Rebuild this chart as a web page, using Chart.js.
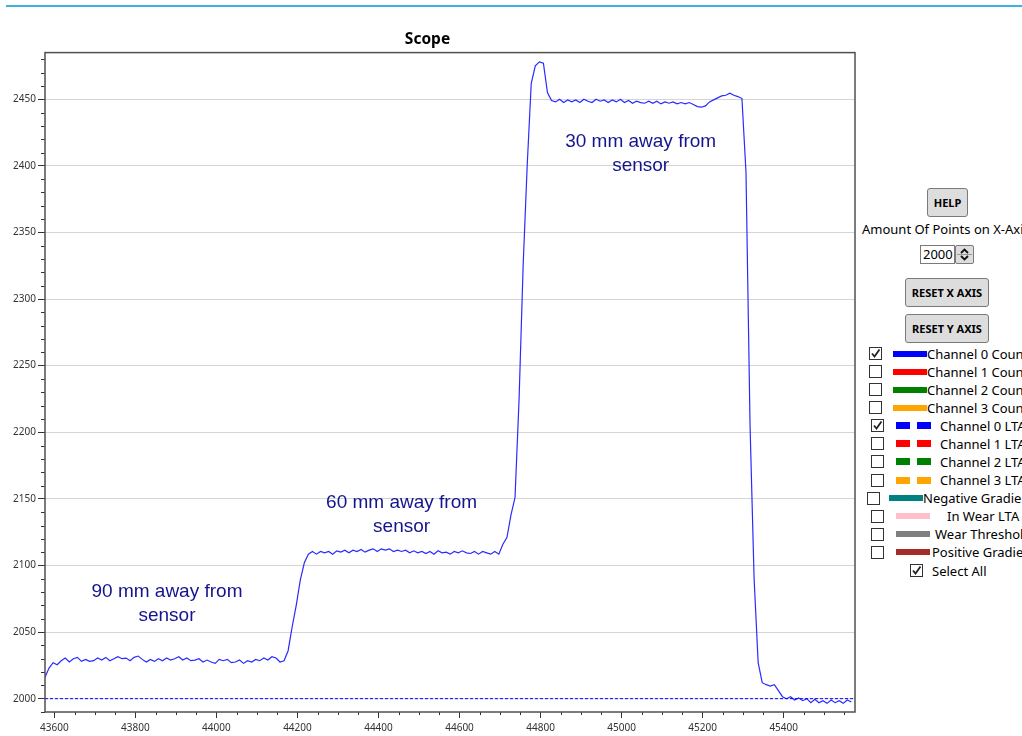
<!DOCTYPE html>
<html>
<head>
<meta charset="utf-8">
<title>Scope</title>
<script src="https://cdn.jsdelivr.net/npm/chart.js"></script>
<style>
    body { margin: 0; width: 1022px; height: 736px; overflow: hidden; background: #fff; font-family: "Noto Sans", "Open Sans", sans-serif; color: #000; }
    #topline { position: absolute; left: 6px; top: 5px; width: 1016px; height: 2px; background: #3db2e2; }
    #wrap { position: absolute; left: 0; top: 0; width: 862px; height: 736px; }
    .btn { position: absolute; box-sizing: border-box; background: #dddddd; border: 1px solid #7a7a7a; border-radius: 3px; font-weight: bold; font-size: 11px; text-align: center; }
    .txt { position: absolute; font-size: 13px; white-space: nowrap; line-height: 16px; }
    .box { position: absolute; box-sizing: border-box; width: 13px; height: 13px; border: 1px solid #333; background: #fff; }
    .sw { position: absolute; }
</style>
</head>
<body>
<div id="topline"></div>
<div id="wrap"><canvas id="scope" width="862" height="736"></canvas></div>

<script>
// x positions: one sample every 10 counts starting at X_START
const X_START = 43577;
const X_STEP = 10;

// Channel 0 count
const channel0 = [
    2016, 2023, 2027, 2025.5, 2028.5, 2030.5, 2027.5, 2030, 2031, 2028,
    2029.5, 2028, 2028.5, 2030.5, 2029, 2031, 2028.5, 2030, 2031.5, 2030,
    2030.5, 2028.5, 2031, 2032, 2029.5, 2027.5, 2029.5, 2028, 2030, 2028.5,
    2030.5, 2029, 2030, 2031.5, 2029, 2030.5, 2028.5, 2029, 2030, 2027.5,
    2029, 2027.5, 2026.5, 2029.5, 2028.5, 2029.5, 2027, 2027.5, 2029, 2026.5,
    2028.5, 2027.5, 2029.5, 2028.5, 2030.5, 2029, 2031.5, 2030.5, 2027.5, 2028.5,
    2036, 2054, 2070, 2089, 2102, 2108.5, 2110.5, 2108.5, 2110.5, 2109.5,
    2110.5, 2108.5, 2111, 2110, 2111.5, 2109.5, 2111.5, 2110.5, 2112, 2110,
    2111.5, 2112.5, 2110.5, 2112.5, 2111.5, 2112.5, 2110.5, 2111.5, 2110.5, 2111.5,
    2109.5, 2111, 2109.5, 2110.5, 2109, 2110.5, 2108.5, 2111, 2109.5, 2110,
    2108.5, 2110.5, 2109.5, 2111, 2109.5, 2109, 2110.5, 2108.5, 2110.5, 2109.5,
    2108.5, 2110.5, 2108.5, 2116, 2121, 2138, 2151, 2225, 2325, 2400,
    2462, 2475, 2478, 2477, 2455, 2449, 2448, 2450, 2447.5, 2449.5,
    2448, 2449.5, 2447.5, 2450, 2448.5, 2447.5, 2450, 2448.5, 2449.5, 2447.5,
    2449.5, 2448, 2450, 2447.5, 2449, 2447, 2448.5, 2447.5, 2447, 2448.5,
    2447, 2448.5, 2446.5, 2448, 2447, 2448, 2446.5, 2447.5, 2446.5, 2447.5,
    2446, 2444.5, 2444, 2445, 2448, 2449.5, 2451, 2452.5, 2453, 2454.5,
    2453, 2452, 2450.5, 2395, 2205, 2090, 2027, 2012, 2010.5, 2009.5,
    2010.5, 2006, 2001.5, 2000, 2001.5, 1999, 2000.5, 1998.5, 2000, 1997,
    1999.5, 1997, 1998.5, 1996.5, 1999, 1997, 1998.5, 1996.5, 1999, 1997.5
];

// Channel 0 LTA (dashed)
const ltaX = [43577, 45576];
const ltaValues = [2000, 2000];

// axis ranges and ticks
const xMin = 43577, xMax = 45576, xMajor = 200, xMinor = 50;
const yMin = 1990, yMax = 2485, yMajor = 50, yMinor = 10;

// annotations on the plot (data coordinates)
const noteLines = [["90 mm away from", "sensor"], ["60 mm away from", "sensor"], ["30 mm away from", "sensor"]];
const noteX = [43878, 44457, 45047];
const noteY = [2080, 2147, 2418];

// side panel legend
const legendNames = ["Channel 0 Count", "Channel 1 Count", "Channel 2 Count", "Channel 3 Count",
    "Channel 0 LTA", "Channel 1 LTA", "Channel 2 LTA", "Channel 3 LTA",
    "Negative Gradient", "In Wear LTA", "Wear Threshold", "Positive Gradient"];
const legendColors = ["#0000ff", "#ff0000", "#008000", "#ffa500", "#0000ff", "#ff0000", "#008000", "#ffa500",
    "#008080", "#ffc0cb", "#808080", "#a52a2a"];
const legendChecked = [true, false, false, false, true, false, false, false, false, false, false, false];

function seriesPoints() {
    return channel0.map((v, i) => ({ x: X_START + i * X_STEP, y: v }));
}

// tick values on round multiples inside the range
function roundTicks(min, max, step) {
    const out = [];
    for (let v = Math.ceil(min / step) * step; v <= max; v += step) out.push({ value: v });
    return out;
}

const minorTicks = {
    id: "minorTicks",
    afterDraw(chart) {
        const ctx = chart.ctx;
        const a = chart.chartArea;
        const xs = chart.scales.x, ys = chart.scales.y;
        ctx.save();
        ctx.strokeStyle = "#333";
        ctx.lineWidth = 1;
        ctx.beginPath();
        roundTicks(yMin, yMax, yMinor).forEach(t => {
            if (t.value % yMajor === 0) return;
            const p = Math.round(ys.getPixelForValue(t.value)) + 0.5;
            ctx.moveTo(a.left - 4, p);
            ctx.lineTo(a.left, p);
        });
        roundTicks(xMin, xMax, xMinor).forEach(t => {
            if (t.value % xMajor === 0) return;
            const p = Math.round(xs.getPixelForValue(t.value)) + 0.5;
            ctx.moveTo(p, a.bottom);
            ctx.lineTo(p, a.bottom + 3);
        });
        ctx.stroke();
        // frame round the plot
        ctx.strokeStyle = "#505050";
        ctx.lineWidth = 1.5;
        ctx.strokeRect(a.left, a.top, a.right - a.left, a.bottom - a.top);
        ctx.restore();
    }
};

const notes = {
    id: "notes",
    afterDatasetsDraw(chart) {
        const ctx = chart.ctx;
        ctx.save();
        ctx.font = '19px "Liberation Sans", Arial, sans-serif';
        ctx.fillStyle = "#14148f";
        ctx.textAlign = "center";
        ctx.textBaseline = "middle";
        noteLines.forEach((lines, i) => {
            const px = chart.scales.x.getPixelForValue(noteX[i]);
            const py = chart.scales.y.getPixelForValue(noteY[i]);
            lines.forEach((t, k) => ctx.fillText(t, px, py + k * 24));
        });
        ctx.restore();
    }
};

function renderChart() {
    const ctx = document.getElementById("scope").getContext("2d");
    new Chart(ctx, {
        type: "line",
        data: {
            datasets: [
                {
                    label: "Channel 0 LTA",
                    data: ltaX.map((x, i) => ({ x: x, y: ltaValues[i] })),
                    borderColor: "#0000ff",
                    borderWidth: 1,
                    borderDash: [3, 2],
                    pointRadius: 0,
                    fill: false
                },
                {
                    label: "Channel 0 Count",
                    data: seriesPoints(),
                    borderColor: "#2a2aff",
                    borderWidth: 1.2,
                    pointRadius: 0,
                    tension: 0,
                    fill: false
                }
            ]
        },
        options: {
            responsive: false,
            animation: false,
            devicePixelRatio: 1,
            layout: { padding: { left: 0, right: 7, top: 0, bottom: 0 } },
            plugins: {
                legend: { display: false },
                tooltip: { enabled: false },
                title: {
                    display: true,
                    text: "Scope",
                    color: "#000",
                    font: { family: "Noto Sans", size: 15.5, weight: "bold" },
                    padding: { top: 30, bottom: 4 }
                }
            },
            scales: {
                x: {
                    type: "linear",
                    min: xMin,
                    max: xMax,
                    afterBuildTicks(scale) { scale.ticks = roundTicks(xMin, xMax, xMajor); },
                    afterFit(scale) { scale.height = 24; },
                    border: { display: false },
                    grid: { drawOnChartArea: false, drawTicks: true, tickLength: 6, tickColor: "#333" },
                    ticks: {
                        maxRotation: 0,
                        autoSkip: false,
                        padding: 4,
                        color: "#333",
                        font: { family: "Noto Sans", size: 10 },
                        callback: v => String(v)
                    }
                },
                y: {
                    min: yMin,
                    max: yMax,
                    afterBuildTicks(scale) { scale.ticks = roundTicks(yMin, yMax, yMajor); },
                    afterFit(scale) { scale.width = 45; },
                    border: { display: false },
                    grid: { color: "#d4d4d4", lineWidth: 1, drawTicks: true, tickLength: 7, tickColor: "#333" },
                    ticks: {
                        padding: 2,
                        color: "#333",
                        font: { family: "Noto Sans", size: 10 },
                        callback: v => String(v)
                    }
                }
            }
        },
        plugins: [minorTicks, notes]
    });
}

function addEl(cls, left, top, w, h, html) {
    const el = document.createElement("div");
    el.className = cls;
    el.style.left = left + "px";
    el.style.top = top + "px";
    if (w) el.style.width = w + "px";
    if (h) el.style.height = h + "px";
    if (html) el.innerHTML = html;
    document.body.appendChild(el);
    return el;
}

const tick = '<svg width="11" height="11" style="position:absolute;left:0;top:0"><polyline points="2,5.5 4.5,8.5 9.5,1.5" fill="none" stroke="#222" stroke-width="1.8"/></svg>';

function checkbox(left, top, on) {
    addEl("box", left, top, 0, 0, on ? tick : "");
}

function renderPanel() {
    addEl("btn", 927, 188, 41, 29, "HELP").style.lineHeight = "27px";
    addEl("txt", 862, 221, 0, 0, "Amount Of Points on X-Axis");
    const box = addEl("txt", 920, 245, 35, 19, "2000");
    box.style.boxSizing = "border-box";
    box.style.border = "1px solid #7a7a7a";
    box.style.paddingLeft = "2px";
    box.style.lineHeight = "17px";
    addEl("btn", 955, 245, 19, 19,
        '<svg width="17" height="17" style="position:absolute;left:0;top:0">' +
        '<polyline points="5,7 8.5,3.5 12,7" fill="none" stroke="#111" stroke-width="1.8"/>' +
        '<polyline points="5,10 8.5,13.5 12,10" fill="none" stroke="#111" stroke-width="1.8"/>' +
        '<line x1="1" y1="8.5" x2="16" y2="8.5" stroke="#999" stroke-width="1"/></svg>').style.borderRadius = "2px";
    addEl("btn", 905, 278, 84, 29, "RESET X AXIS").style.lineHeight = "27px";
    addEl("btn", 905, 314, 84, 29, "RESET Y AXIS").style.lineHeight = "27px";

    const boxLeft = [869, 869, 869, 869, 871, 871, 871, 871, 867, 871, 871, 871];
    const textLeft = [927, 927, 927, 927, 940, 940, 940, 940, 923, 947, 935, 932];
    legendNames.forEach((name, i) => {
        const top = 347 + i * 18.08;
        checkbox(boxLeft[i], Math.round(top), legendChecked[i]);
        if (i < 4) {
            addEl("sw", 893, Math.round(top + 3.5), 34, 6).style.background = legendColors[i];
        } else if (i < 8) {
            addEl("sw", 896, Math.round(top + 3), 14, 7).style.background = legendColors[i];
            addEl("sw", 917, Math.round(top + 3), 14, 7).style.background = legendColors[i];
        } else {
            addEl("sw", i === 8 ? 889 : 896, Math.round(top + 3.5), 34, 6).style.background = legendColors[i];
        }
        addEl("txt", textLeft[i], Math.round(top - 1.5), 0, 0, name);
    });
    const allTop = Math.round(347 + 12 * 18.08);
    checkbox(910, allTop, true);
    addEl("txt", 932, allTop - 1.5, 0, 0, "Select All");
}

document.addEventListener("DOMContentLoaded", () => {
    renderChart();
    renderPanel();
});
</script>
</body>
</html>
